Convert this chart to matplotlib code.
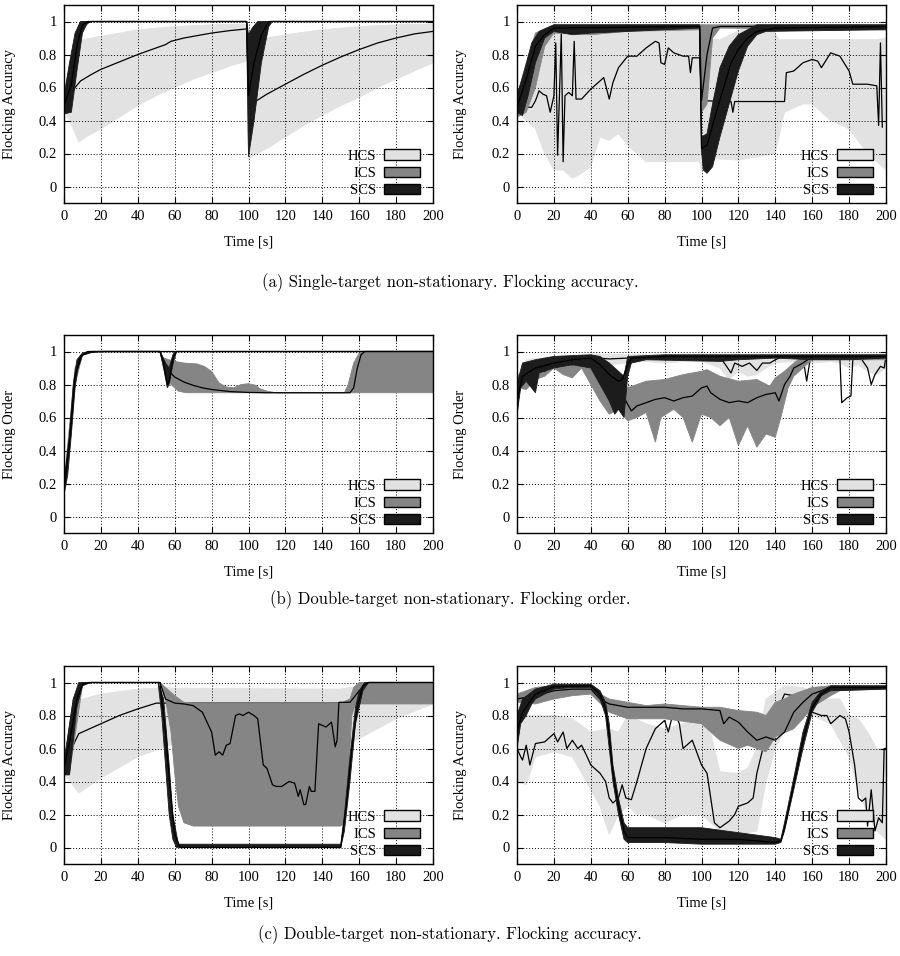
import numpy as np
import matplotlib.pyplot as plt
from matplotlib.patches import Patch

# ---------------- data: (time, value) ----------------
# (a) left
a1_hcs_lo = [(0, 0.46), (3, 0.4), (8, 0.27), (12, 0.3), (20, 0.35), (30, 0.42), (40, 0.49), (50, 0.55),
             (60, 0.6), (70, 0.65), (80, 0.69), (90, 0.73), (99, 0.76), (100, 0.17), (105, 0.2), (110, 0.23),
             (120, 0.3), (130, 0.37), (140, 0.43), (150, 0.49), (160, 0.54), (170, 0.6), (180, 0.65),
             (190, 0.7), (200, 0.75)]
a1_hcs_hi = [(0, 0.52), (5, 0.7), (10, 0.89), (20, 0.91), (30, 0.93), (40, 0.95), (60, 0.97), (80, 0.98),
             (99, 0.985), (100, 0.88), (110, 0.9), (120, 0.92), (140, 0.95), (160, 0.97), (180, 0.98), (200, 0.985)]
a1_hcs_m = [(0, 0.47), (3, 0.53), (6, 0.6), (9, 0.64), (15, 0.68), (20, 0.71), (30, 0.755), (40, 0.8),
            (50, 0.84), (55, 0.86), (58, 0.88), (65, 0.9), (80, 0.93), (90, 0.945), (99, 0.955), (100, 0.56),
            (103, 0.51), (110, 0.56), (120, 0.62), (130, 0.68), (140, 0.735), (150, 0.785), (160, 0.83),
            (170, 0.87), (180, 0.9), (190, 0.925), (200, 0.94)]
a1_ics_lo = [(0, 0.45), (3, 0.45), (7, 0.75), (10, 0.95), (14, 1.0), (99, 1.0), (100, 0.2), (104, 0.5),
             (108, 0.9), (112, 1.0), (200, 1.0)]
a1_ics_hi = [(0, 0.52), (4, 0.8), (8, 0.98), (10, 1.0), (99, 1.0), (100, 0.9), (103, 0.97), (106, 1.0), (200, 1.0)]
a1_ics_m = [(0, 0.48), (5, 0.75), (10, 0.98), (15, 1.0), (99, 1.0), (100, 0.55), (104, 0.8), (108, 0.97),
            (112, 1.0), (200, 1.0)]
a1_scs_lo = [(0, 0.44), (4, 0.45), (7, 0.7), (10, 0.93), (13, 1.0), (99, 1.0), (100, 0.18), (103, 0.4),
             (107, 0.75), (111, 0.97), (113, 1.0), (200, 1.0)]
a1_scs_hi = [(0, 0.55), (3, 0.75), (6, 0.93), (9, 1.0), (99, 1.0), (100, 0.92), (102, 0.96), (105, 1.0), (200, 1.0)]
a1_scs_m = [(0, 0.49), (4, 0.62), (7, 0.85), (10, 0.98), (13, 1.0), (99, 1.0), (100, 0.55), (103, 0.75),
            (107, 0.92), (111, 1.0), (200, 1.0)]

# (a) right
a2_hcs_lo = [(0, 0.45), (5, 0.4), (10, 0.35), (15, 0.2), (20, 0.1), (25, 0.1), (30, 0.05), (35, 0.08),
             (40, 0.12), (45, 0.3), (50, 0.28), (55, 0.32), (60, 0.25), (65, 0.2), (70, 0.15), (80, 0.15),
             (90, 0.15), (99, 0.15), (100, 0.1), (105, 0.17), (120, 0.16), (130, 0.18), (140, 0.2), (145, 0.45),
             (155, 0.5), (160, 0.5), (170, 0.4), (180, 0.35), (190, 0.2), (200, 0.1)]
a2_hcs_hi = [(0, 0.55), (10, 0.9), (20, 0.96), (40, 0.97), (60, 0.96), (99, 0.97), (100, 0.9), (110, 0.89),
             (125, 0.97), (138, 0.96), (142, 0.89), (195, 0.89), (200, 0.9)]
a2_hcs_m = [(0, 0.47), (5, 0.48), (8, 0.48), (10, 0.52), (12, 0.58), (14, 0.56), (16, 0.55), (18, 0.45),
            (20, 0.55), (21, 0.87), (22, 0.19), (23, 0.55), (24, 0.93), (25, 0.15), (26, 0.55), (28, 0.57),
            (30, 0.55), (31, 0.88), (32, 0.53), (35, 0.53), (40, 0.59), (45, 0.64), (47, 0.66), (50, 0.53),
            (52, 0.63), (55, 0.72), (60, 0.79), (65, 0.79), (70, 0.84), (75, 0.88), (77, 0.87), (78, 0.75),
            (80, 0.74), (82, 0.84), (85, 0.81), (90, 0.79), (93, 0.79), (94, 0.69), (95, 0.78), (99, 0.78),
            (100, 0.52), (116, 0.515), (117, 0.45), (118, 0.515), (145, 0.515), (146, 0.69), (150, 0.7),
            (155, 0.75), (160, 0.77), (163, 0.76), (165, 0.72), (170, 0.81), (175, 0.79), (180, 0.7),
            (182, 0.62), (190, 0.62), (195, 0.61), (196, 0.37), (197, 0.87), (198, 0.36)]
a2_ics_lo = [(0, 0.42), (5, 0.45), (10, 0.6), (15, 0.85), (20, 0.93), (40, 0.92), (60, 0.94), (99, 0.95),
             (100, 0.45), (103, 0.5), (106, 0.9), (110, 0.96), (200, 0.95)]
a2_ics_hi = [(0, 0.55), (5, 0.75), (10, 0.93), (20, 0.98), (99, 0.98), (100, 0.98), (200, 0.98)]
a2_ics_m = [(0, 0.48), (5, 0.6), (10, 0.85), (15, 0.92), (20, 0.96), (99, 0.97), (100, 0.52), (103, 0.8),
            (106, 0.96), (110, 0.97), (200, 0.97)]
a2_scs_lo = [(0, 0.45), (3, 0.43), (6, 0.55), (10, 0.75), (15, 0.9), (20, 0.94), (30, 0.92), (40, 0.93),
             (60, 0.94), (99, 0.96), (100, 0.22), (101, 0.1), (103, 0.08), (106, 0.12), (110, 0.3), (115, 0.5),
             (120, 0.7), (125, 0.85), (130, 0.92), (135, 0.94), (200, 0.95)]
a2_scs_hi = [(0, 0.55), (4, 0.7), (8, 0.87), (12, 0.94), (20, 0.98), (99, 0.98), (100, 0.3), (103, 0.32),
             (106, 0.5), (110, 0.72), (115, 0.85), (120, 0.92), (125, 0.95), (130, 0.98), (200, 0.98)]
a2_scs_m = [(0, 0.48), (5, 0.65), (10, 0.85), (15, 0.92), (20, 0.96), (99, 0.97), (100, 0.23), (103, 0.25),
            (108, 0.45), (112, 0.6), (116, 0.75), (120, 0.83), (125, 0.9), (130, 0.94), (140, 0.96), (200, 0.97)]

# (b) left
b1_hcs_lo = [(0, 0.14), (3, 0.4), (6, 0.8), (9, 0.97), (12, 0.99), (20, 1.0), (200, 1.0)]
b1_hcs_hi = [(0, 0.2), (3, 0.55), (6, 0.9), (9, 0.98), (15, 1.0), (200, 1.0)]
b1_hcs_m = [(0, 0.17), (3, 0.47), (6, 0.85), (9, 0.975), (15, 0.995), (20, 1.0), (200, 1.0)]
b1_ics_lo = [(0, 0.14), (3, 0.4), (6, 0.8), (10, 0.98), (15, 1.0), (52, 1.0), (55, 0.85), (58, 0.8),
             (62, 0.76), (66, 0.75), (200, 0.75)]
b1_ics_hi = [(0, 0.2), (3, 0.55), (6, 0.9), (10, 0.99), (15, 1.0), (52, 1.0), (54, 0.96), (60, 0.94),
             (65, 0.93), (72, 0.925), (76, 0.91), (80, 0.88), (84, 0.81), (88, 0.785), (92, 0.78), (96, 0.8),
             (100, 0.805), (104, 0.795), (106, 0.775), (110, 0.76), (115, 0.75), (152, 0.75), (154, 0.8),
             (157, 0.93), (160, 0.99), (163, 1.0), (200, 1.0)]
b1_ics_m = [(0, 0.17), (3, 0.47), (6, 0.85), (10, 0.98), (15, 1.0), (52, 1.0), (54, 0.95), (57, 0.88),
            (60, 0.845), (65, 0.815), (70, 0.795), (75, 0.78), (80, 0.77), (90, 0.757), (100, 0.752),
            (110, 0.75), (155, 0.75), (157, 0.78), (159, 0.9), (161, 0.98), (163, 1.0), (200, 1.0)]
b1_scs_lo = [(0, 0.13), (2, 0.25), (4, 0.5), (6, 0.78), (8, 0.93), (10, 0.98), (14, 1.0), (52, 1.0),
             (54, 0.9), (56, 0.78), (57, 0.8), (59, 0.92), (61, 1.0), (200, 1.0)]
b1_scs_hi = [(0, 0.2), (3, 0.5), (5, 0.8), (7, 0.95), (10, 0.99), (13, 1.0), (52, 1.0), (55, 0.93),
             (57, 0.9), (59, 0.98), (60, 1.0), (200, 1.0)]
b1_scs_m = [(0, 0.16), (3, 0.45), (6, 0.85), (9, 0.97), (13, 1.0), (52, 1.0), (54, 0.93), (56, 0.8),
            (57, 0.82), (59, 0.96), (61, 1.0), (200, 1.0)]

# (b) right
b2_hcs_lo = [(0, 0.75), (5, 0.88), (10, 0.9), (20, 0.92), (40, 0.94), (45, 0.93), (50, 0.92), (60, 0.93),
             (70, 0.94), (80, 0.93), (90, 0.94), (100, 0.94), (110, 0.9), (115, 0.83), (120, 0.88), (125, 0.85),
             (130, 0.86), (135, 0.9), (140, 0.93), (150, 0.94), (160, 0.93), (170, 0.94), (175, 0.93),
             (180, 0.9), (185, 0.92), (190, 0.88), (195, 0.86), (200, 0.9)]
b2_hcs_hi = [(0, 0.85), (5, 0.95), (20, 0.97), (40, 0.985), (60, 0.98), (100, 0.985), (150, 0.985), (200, 0.985)]
b2_hcs_m = [(0, 0.62), (2, 0.86), (5, 0.9), (10, 0.93), (15, 0.92), (18, 0.89), (20, 0.92), (25, 0.94),
            (30, 0.945), (40, 0.95), (42, 0.93), (44, 0.96), (50, 0.955), (60, 0.96), (70, 0.965), (80, 0.97),
            (100, 0.97), (110, 0.965), (113, 0.92), (116, 0.87), (118, 0.93), (122, 0.91), (126, 0.93),
            (130, 0.885), (133, 0.93), (137, 0.93), (140, 0.95), (143, 0.965), (150, 0.97), (155, 0.965),
            (157, 0.82), (159, 0.96), (170, 0.965), (175, 0.96), (176, 0.69), (179, 0.72), (181, 0.73),
            (182, 0.95), (186, 0.965), (190, 0.9), (192, 0.8), (194, 0.86), (197, 0.91), (199, 0.9), (200, 0.97)]
b2_ics_lo = [(0, 0.78), (5, 0.77), (10, 0.83), (15, 0.85), (20, 0.9), (25, 0.86), (30, 0.84), (35, 0.9),
             (40, 0.8), (45, 0.7), (50, 0.62), (55, 0.65), (60, 0.58), (65, 0.6), (70, 0.63), (75, 0.45),
             (78, 0.6), (85, 0.65), (90, 0.6), (95, 0.45), (100, 0.62), (105, 0.6), (110, 0.55), (115, 0.6),
             (120, 0.43), (125, 0.55), (130, 0.42), (135, 0.5), (140, 0.48), (143, 0.6), (147, 0.78),
             (150, 0.85), (155, 0.9), (160, 0.95), (200, 0.95)]
b2_ics_hi = [(0, 0.85), (10, 0.93), (20, 0.95), (40, 0.97), (50, 0.93), (55, 0.85), (58, 0.8), (60, 0.78),
             (65, 0.8), (70, 0.82), (80, 0.83), (90, 0.86), (100, 0.88), (103, 0.89), (110, 0.85), (120, 0.82),
             (130, 0.83), (137, 0.79), (140, 0.84), (145, 0.88), (150, 0.93), (155, 0.97), (200, 0.98)]
b2_ics_m = [(0, 0.8), (5, 0.88), (10, 0.9), (15, 0.88), (20, 0.93), (30, 0.92), (40, 0.94), (45, 0.85),
            (50, 0.78), (55, 0.73), (58, 0.72), (60, 0.68), (62, 0.64), (65, 0.67), (70, 0.69), (75, 0.71),
            (80, 0.72), (85, 0.7), (90, 0.72), (95, 0.73), (100, 0.78), (103, 0.79), (105, 0.75), (110, 0.71),
            (115, 0.69), (120, 0.7), (125, 0.69), (130, 0.72), (135, 0.74), (140, 0.75), (142, 0.7),
            (145, 0.8), (148, 0.85), (150, 0.9), (155, 0.93), (160, 0.97), (200, 0.97)]
b2_scs_lo = [(0, 0.62), (2, 0.78), (5, 0.82), (10, 0.75), (12, 0.87), (20, 0.9), (30, 0.92), (40, 0.9),
             (45, 0.8), (50, 0.7), (53, 0.62), (55, 0.65), (58, 0.6), (60, 0.85), (62, 0.93), (70, 0.95),
             (110, 0.94), (120, 0.95), (140, 0.96), (160, 0.95), (180, 0.95), (200, 0.96)]
b2_scs_hi = [(0, 0.8), (3, 0.93), (10, 0.95), (20, 0.97), (40, 0.98), (45, 0.97), (50, 0.93), (55, 0.88),
             (58, 0.85), (60, 0.97), (80, 0.98), (200, 0.98)]
b2_scs_m = [(0, 0.7), (3, 0.85), (10, 0.9), (20, 0.93), (30, 0.95), (40, 0.96), (45, 0.92), (50, 0.86),
            (55, 0.82), (57, 0.83), (60, 0.92), (62, 0.96), (80, 0.97), (200, 0.97)]

# (c) left
c1_hcs_lo = [(0, 0.45), (8, 0.33), (20, 0.42), (40, 0.55), (60, 0.63), (100, 0.65), (150, 0.6), (160, 0.66),
             (180, 0.78), (200, 0.87)]
c1_hcs_hi = [(0, 0.5), (8, 0.88), (10, 0.9), (20, 0.93), (40, 0.96), (55, 0.97), (60, 0.965), (150, 0.96),
             (155, 0.97), (200, 0.99)]
c1_hcs_m = [(0, 0.47), (5, 0.62), (8, 0.69), (10, 0.7), (20, 0.75), (30, 0.8), (40, 0.84), (50, 0.875),
            (160, 0.875), (200, 0.88)]
c1_ics_lo = [(0, 0.45), (3, 0.45), (10, 0.98), (15, 1.0), (52, 1.0), (55, 0.9), (58, 0.7), (60, 0.45),
             (62, 0.25), (65, 0.15), (70, 0.13), (150, 0.13), (152, 0.15), (154, 0.4), (156, 0.8),
             (158, 0.87), (200, 0.87)]
c1_ics_hi = [(0, 0.5), (5, 0.9), (10, 1.0), (52, 1.0), (60, 0.92), (65, 0.88), (70, 0.875), (150, 0.875),
             (155, 0.9), (157, 0.97), (160, 1.0), (200, 1.0)]
c1_ics_m = [(0, 0.47), (5, 0.8), (10, 0.99), (15, 1.0), (52, 1.0), (55, 0.9), (60, 0.875), (65, 0.87),
            (70, 0.86), (75, 0.82), (80, 0.7), (82, 0.56), (84, 0.58), (86, 0.56), (88, 0.62), (90, 0.63),
            (93, 0.8), (95, 0.81), (97, 0.8), (100, 0.82), (103, 0.8), (105, 0.78), (108, 0.5), (110, 0.48),
            (113, 0.38), (115, 0.37), (118, 0.37), (122, 0.4), (125, 0.39), (127, 0.31), (128, 0.35),
            (130, 0.26), (131, 0.26), (133, 0.37), (134, 0.34), (136, 0.34), (138, 0.75), (140, 0.74),
            (142, 0.73), (145, 0.76), (147, 0.61), (148, 0.65), (149, 0.88), (155, 0.88), (160, 0.95),
            (165, 1.0), (200, 1.0)]
c1_scs_lo = [(0, 0.44), (3, 0.44), (7, 0.85), (10, 0.98), (14, 1.0), (51, 1.0), (53, 0.8), (55, 0.5),
             (57, 0.2), (59, 0.05), (61, 0.0), (150, 0.0), (152, 0.1), (155, 0.4), (158, 0.75), (162, 0.95),
             (165, 1.0), (200, 1.0)]
c1_scs_hi = [(0, 0.52), (5, 0.9), (8, 1.0), (51, 1.0), (54, 0.9), (57, 0.5), (59, 0.2), (62, 0.02),
             (150, 0.02), (152, 0.2), (155, 0.55), (158, 0.85), (160, 0.95), (163, 1.0), (200, 1.0)]
c1_scs_m = [(0, 0.48), (4, 0.7), (7, 0.9), (10, 0.99), (13, 1.0), (52, 1.0), (55, 0.7), (58, 0.3),
            (60, 0.08), (63, 0.0), (150, 0.0), (153, 0.25), (156, 0.6), (159, 0.85), (162, 0.98),
            (165, 1.0), (200, 1.0)]

# (c) right
c2_hcs_lo = [(0, 0.4), (5, 0.38), (10, 0.55), (20, 0.58), (30, 0.55), (40, 0.35), (45, 0.25), (50, 0.08),
             (55, 0.2), (60, 0.25), (65, 0.2), (70, 0.2), (80, 0.15), (90, 0.2), (100, 0.2), (110, 0.1),
             (120, 0.08), (130, 0.1), (135, 0.4), (140, 0.6), (150, 0.82), (160, 0.8), (170, 0.75),
             (180, 0.55), (185, 0.35), (190, 0.2), (195, 0.1), (200, 0.05)]
c2_hcs_hi = [(0, 0.8), (10, 0.8), (20, 0.8), (30, 0.78), (40, 0.7), (50, 0.72), (55, 0.7), (60, 0.8),
             (70, 0.75), (80, 0.72), (90, 0.75), (100, 0.8), (105, 0.7), (110, 0.46), (120, 0.45), (125, 0.48),
             (130, 0.6), (135, 0.9), (145, 0.98), (155, 0.97), (165, 0.9), (175, 0.9), (180, 0.8), (185, 0.78),
             (190, 0.7), (195, 0.6), (200, 0.6)]
c2_hcs_m = [(0, 0.6), (2, 0.55), (3, 0.53), (5, 0.62), (7, 0.5), (10, 0.63), (15, 0.64), (20, 0.69),
            (22, 0.64), (25, 0.7), (27, 0.6), (30, 0.65), (33, 0.6), (35, 0.62), (38, 0.55), (40, 0.5),
            (45, 0.45), (48, 0.4), (50, 0.3), (52, 0.27), (55, 0.3), (57, 0.38), (59, 0.3), (62, 0.29),
            (65, 0.4), (70, 0.6), (75, 0.72), (80, 0.77), (82, 0.7), (85, 0.83), (88, 0.75), (90, 0.6),
            (95, 0.65), (100, 0.5), (103, 0.45), (105, 0.3), (107, 0.15), (110, 0.12), (115, 0.16), (118, 0.2),
            (120, 0.25), (125, 0.27), (128, 0.3), (130, 0.45), (135, 0.68), (140, 0.8), (145, 0.93),
            (150, 0.92), (155, 0.9), (160, 0.82), (165, 0.8), (168, 0.8), (170, 0.75), (175, 0.8), (178, 0.78),
            (180, 0.7), (183, 0.5), (185, 0.3), (187, 0.28), (189, 0.3), (190, 0.13), (192, 0.35), (194, 0.1),
            (196, 0.18), (198, 0.15), (199, 0.6), (200, 0.6)]
c2_ics_lo = [(0, 0.88), (10, 0.87), (20, 0.9), (30, 0.92), (40, 0.93), (50, 0.82), (60, 0.78), (80, 0.78),
             (100, 0.75), (110, 0.65), (120, 0.6), (125, 0.62), (130, 0.6), (135, 0.58), (140, 0.67),
             (150, 0.72), (155, 0.78), (160, 0.85), (170, 0.92), (175, 0.95), (200, 0.96)]
c2_ics_hi = [(0, 0.93), (10, 0.97), (20, 0.98), (40, 0.98), (45, 0.93), (50, 0.9), (60, 0.88), (70, 0.86),
             (80, 0.87), (100, 0.85), (110, 0.85), (120, 0.83), (130, 0.82), (135, 0.8), (140, 0.88),
             (145, 0.9), (150, 0.93), (160, 0.97), (170, 0.98), (200, 0.98)]
c2_ics_m = [(0, 0.9), (10, 0.92), (20, 0.95), (30, 0.96), (40, 0.96), (45, 0.9), (50, 0.87), (60, 0.85),
            (70, 0.85), (80, 0.85), (90, 0.84), (100, 0.84), (110, 0.83), (112, 0.75), (115, 0.79),
            (120, 0.76), (125, 0.7), (130, 0.65), (135, 0.67), (140, 0.65), (145, 0.7), (150, 0.82),
            (155, 0.88), (160, 0.93), (165, 0.95), (170, 0.97), (200, 0.97)]
c2_scs_lo = [(0, 0.6), (2, 0.75), (5, 0.8), (8, 0.87), (10, 0.9), (20, 0.96), (30, 0.97), (40, 0.97),
             (45, 0.9), (48, 0.8), (50, 0.6), (52, 0.4), (55, 0.2), (58, 0.05), (60, 0.03), (80, 0.03),
             (100, 0.02), (120, 0.02), (140, 0.02), (143, 0.03), (145, 0.1), (150, 0.35), (155, 0.6),
             (160, 0.82), (165, 0.92), (170, 0.95), (200, 0.96)]
c2_scs_hi = [(0, 0.8), (3, 0.9), (10, 0.96), (20, 0.99), (40, 0.99), (45, 0.95), (48, 0.88), (50, 0.75),
             (52, 0.5), (55, 0.3), (58, 0.15), (60, 0.12), (80, 0.12), (100, 0.12), (120, 0.09), (140, 0.06),
             (143, 0.05), (145, 0.15), (150, 0.42), (155, 0.7), (160, 0.88), (165, 0.95), (170, 0.98), (200, 0.98)]
c2_scs_m = [(0, 0.7), (3, 0.82), (10, 0.93), (20, 0.975), (40, 0.98), (45, 0.93), (48, 0.84), (50, 0.68),
            (52, 0.45), (55, 0.25), (58, 0.1), (60, 0.06), (80, 0.06), (100, 0.05), (120, 0.05), (140, 0.03),
            (143, 0.04), (145, 0.12), (150, 0.38), (155, 0.65), (160, 0.85), (165, 0.93), (170, 0.97), (200, 0.97)]

methods = ["HCS", "ICS", "SCS"]
colors = ["#e2e2e2", "#858585", "#1c1c1c"]
captions = ["(a) Single-target non-stationary. Flocking accuracy.",
            "(b) Double-target non-stationary. Flocking order.",
            "(c) Double-target non-stationary. Flocking accuracy."]
ylabels = ["Flocking Accuracy", "Flocking Order", "Flocking Accuracy"]

panels = [
    [(a1_hcs_lo, a1_hcs_hi, a1_hcs_m), (a1_ics_lo, a1_ics_hi, a1_ics_m), (a1_scs_lo, a1_scs_hi, a1_scs_m)],
    [(a2_hcs_lo, a2_hcs_hi, a2_hcs_m), (a2_ics_lo, a2_ics_hi, a2_ics_m), (a2_scs_lo, a2_scs_hi, a2_scs_m)],
    [(b1_hcs_lo, b1_hcs_hi, b1_hcs_m), (b1_ics_lo, b1_ics_hi, b1_ics_m), (b1_scs_lo, b1_scs_hi, b1_scs_m)],
    [(b2_hcs_lo, b2_hcs_hi, b2_hcs_m), (b2_ics_lo, b2_ics_hi, b2_ics_m), (b2_scs_lo, b2_scs_hi, b2_scs_m)],
    [(c1_hcs_lo, c1_hcs_hi, c1_hcs_m), (c1_ics_lo, c1_ics_hi, c1_ics_m), (c1_scs_lo, c1_scs_hi, c1_scs_m)],
    [(c2_hcs_lo, c2_hcs_hi, c2_hcs_m), (c2_ics_lo, c2_ics_hi, c2_ics_m), (c2_scs_lo, c2_scs_hi, c2_scs_m)],
]

plt.rcParams['font.family'] = ['Liberation Serif', 'DejaVu Serif']
plt.rcParams['font.size'] = 10.5

fig = plt.figure(figsize=(9, 9.56), dpi=100)
lefts = [64 / 900, 517 / 900]
width = 369 / 900
bottoms = [1 - 203 / 956, 1 - 533 / 956, 1 - 864 / 956]
height = 198 / 956


def band(ax, lo, hi, color, z):
    lo = np.array(lo)
    hi = np.array(hi)
    xs = np.r_[lo[:, 0], hi[::-1, 0]]
    ys = np.r_[lo[:, 1], hi[::-1, 1]]
    ax.fill(xs, ys, facecolor=color, edgecolor=color, lw=0.6, zorder=z)


for i, series in enumerate(panels):
    row, col = divmod(i, 2)
    ax = fig.add_axes([lefts[col], bottoms[row], width, height])
    for k, (lo, hi, m) in enumerate(series):
        band(ax, lo, hi, colors[k], 1 + 0.7 * k)
        m = np.array(m)
        ax.plot(m[:, 0], m[:, 1], color="black", lw=0.9, zorder=1.1 + 0.7 * k + 0.05)
    ax.set_xlim(0, 200)
    ax.set_ylim(-0.1, 1.1)
    ax.set_xticks(np.arange(0, 201, 20))
    ax.set_yticks([0, 0.2, 0.4, 0.6, 0.8, 1.0])
    ax.set_yticklabels(["0", "0.2", "0.4", "0.6", "0.8", "1"])
    ax.set_axisbelow('line')
    ax.grid(True, color="black", ls=(0, (1, 2)), lw=0.7)
    ax.tick_params(direction="in", top=True, right=True, length=4, width=0.8, pad=5)
    for s in ax.spines.values():
        s.set_linewidth(1.0)
        s.set_zorder(5)
    ax.set_xlabel("Time [s]")
    ax.xaxis.set_label_coords(0.5, -0.165)
    ax.set_ylabel(ylabels[row])
    ax.yaxis.set_label_coords(-0.13 if col == 0 else -0.135, 0.5)
    handles = [Patch(facecolor=c, edgecolor="black", lw=1.0) for c in colors]
    ax.legend(handles, methods, loc="lower right", bbox_to_anchor=(0.965, 0.03), frameon=False,
              markerfirst=False, handlelength=2.5, handleheight=0.75, labelspacing=0.25,
              handletextpad=0.5, borderpad=0, borderaxespad=0)

for row, cap in enumerate(captions):
    y = [283, 600, 935][row]
    fig.text(0.5, 1 - y / 956, cap, ha="center", va="center", family="cmr10", fontsize=12)

fig.savefig("out.png", dpi=100)
